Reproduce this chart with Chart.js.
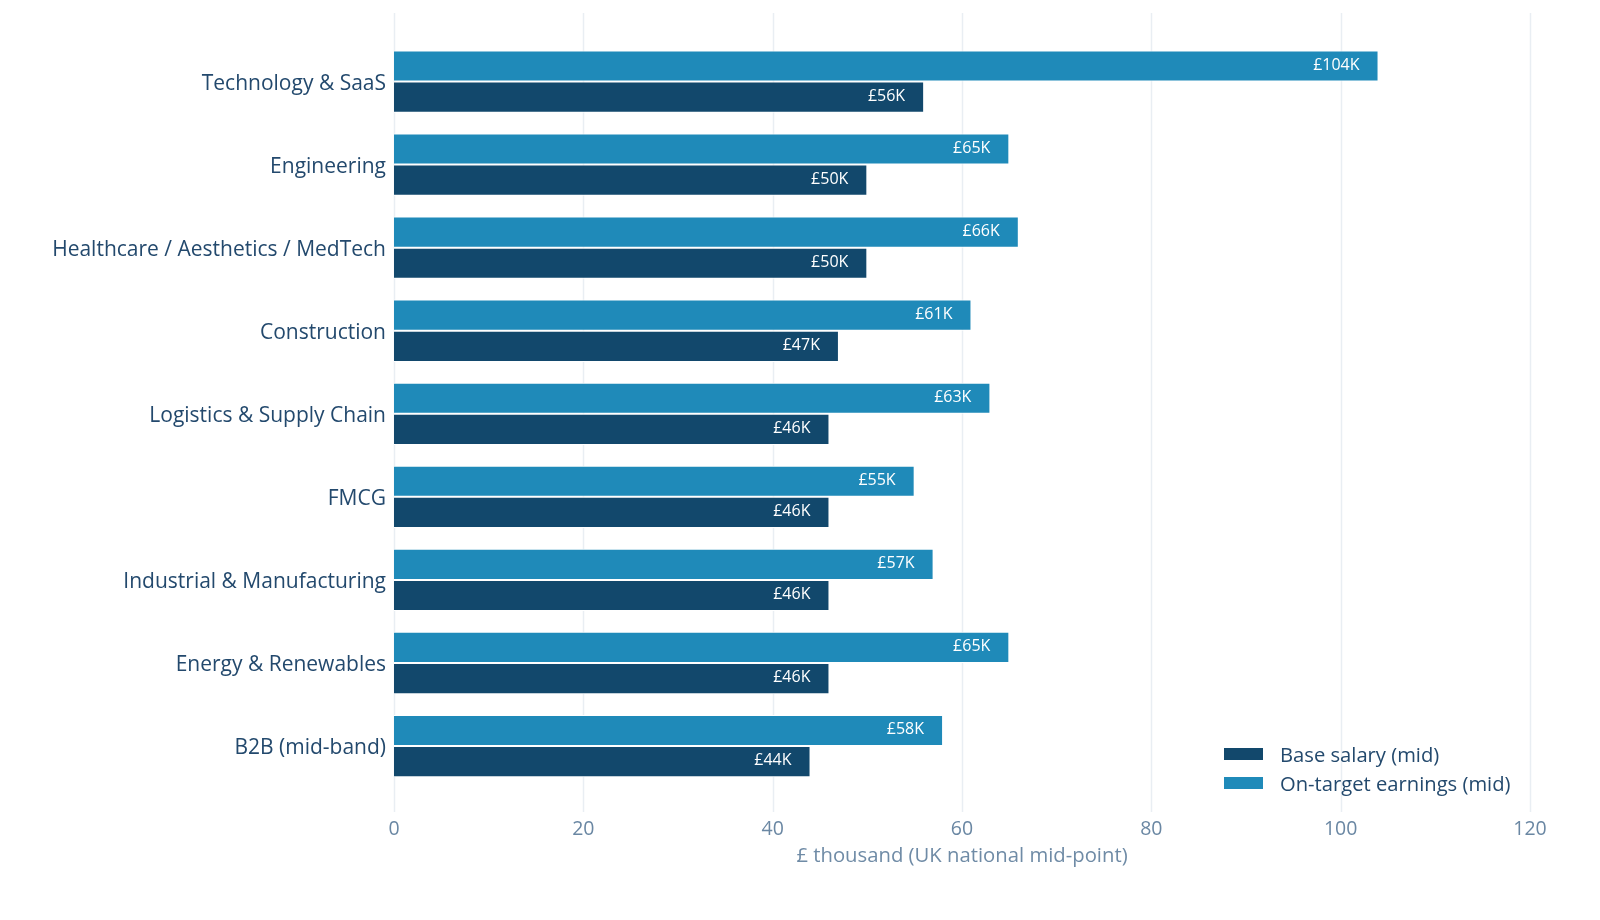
<!DOCTYPE html>
<html>
<head>
<meta charset="utf-8">
<script src="https://cdn.jsdelivr.net/npm/chart.js@4.4.1/dist/chart.umd.min.js"></script>
<style>
  html, body { margin: 0; padding: 0; background: #fff; }
  #wrap { position: relative; width: 1600px; height: 920px; }
  #legend { position: absolute; left: 1224px; top: 739px; font-family: "Open Sans", sans-serif; font-size: 20.2px; color: #23496d; }
  #legend .row { display: flex; align-items: center; height: 29.5px; }
  #legend .box { width: 39px; height: 12px; margin-right: 17px; }
</style>
</head>
<body>
<div id="wrap">
  <canvas id="chart" width="1600" height="920"></canvas>
  <div id="legend"></div>
</div>
<script>
// --- datos ---
const sectores = ['Technology & SaaS', 'Engineering', 'Healthcare / Aesthetics / MedTech', 'Construction',
  'Logistics & Supply Chain', 'FMCG', 'Industrial & Manufacturing', 'Energy & Renewables', 'B2B (mid-band)'];
const baseSalary = [56, 50, 50, 47, 46, 46, 46, 46, 44];
const oteEarnings = [104, 65, 66, 61, 63, 55, 57, 65, 58];
const xTicks = [0, 20, 40, 60, 80, 100, 120];

const colorBase = '#12486c';
const colorOte = '#1f8ab9';

// legend (HTML, orden: base primero)
const legendItems = [['Base salary (mid)', colorBase], ['On-target earnings (mid)', colorOte]];
document.getElementById('legend').innerHTML = legendItems.map(([t, c]) =>
  '<div class="row"><span class="box" style="background:' + c + '"></span>' + t + '</div>').join('');

// grid vertical que se extiende fuera del área
const gridPlugin = {
  id: 'extGrid',
  beforeDatasetsDraw(chart) {
    const { ctx, scales: { x } } = chart;
    ctx.save();
    ctx.strokeStyle = '#e9eef3';
    ctx.lineWidth = 1.5;
    xTicks.forEach(v => {
      const px = Math.round(x.getPixelForValue(v)) + 0.5;
      ctx.beginPath();
      ctx.moveTo(px, 13);
      ctx.lineTo(px, 812);
      ctx.stroke();
    });
    ctx.restore();
  }
};

// etiquetas dentro de la barra
const labelPlugin = {
  id: 'barLabels',
  afterDatasetsDraw(chart) {
    const { ctx } = chart;
    ctx.save();
    ctx.font = '16px "Open Sans", sans-serif';
    ctx.fillStyle = '#ffffff';
    ctx.textAlign = 'right';
    ctx.textBaseline = 'middle';
    chart.data.datasets.forEach((ds, i) => {
      chart.getDatasetMeta(i).data.forEach((bar, j) => {
        ctx.fillText('£' + ds.data[j] + 'K', bar.x - 19, bar.y - 1);
      });
    });
    ctx.restore();
  }
};

new Chart(document.getElementById('chart'), {
  type: 'bar',
  data: {
    labels: sectores,
    datasets: [
      { label: 'On-target earnings (mid)', data: oteEarnings, backgroundColor: colorOte, borderColor: '#ffffff', borderWidth: 1 },
      { label: 'Base salary (mid)', data: baseSalary, backgroundColor: colorBase, borderColor: '#ffffff', borderWidth: 1 }
    ]
  },
  options: {
    indexAxis: 'y',
    responsive: false,
    animation: false,
    categoryPercentage: 0.75,
    barPercentage: 1.0,
    layout: { padding: { top: 40, right: 70, bottom: 51, left: 0 } },
    scales: {
      x: {
        min: 0, max: 120,
        afterBuildTicks: s => { s.ticks = xTicks.map(v => ({ value: v })); },
        afterFit: s => { s.height = 81.4; },
        grid: { display: false },
        border: { display: false },
        ticks: { padding: 22, color: '#6a87a3', font: { family: 'Open Sans', size: 19.5 } },
        title: { display: true, text: '£ thousand (UK national mid-point)', color: '#6f8ba6',
          font: { family: 'Open Sans', size: 20.3 }, padding: { top: 0, bottom: 1 } }
      },
      y: {
        afterFit: s => { s.width = 394; },
        grid: { display: false },
        border: { display: false },
        ticks: { padding: 0, labelOffset: 2, color: '#23496d', font: { family: 'Open Sans', size: 21 } }
      }
    },
    plugins: {
      legend: { display: false },
      tooltip: { enabled: false }
    }
  },
  plugins: [gridPlugin, labelPlugin]
});
</script>
</body>
</html>
